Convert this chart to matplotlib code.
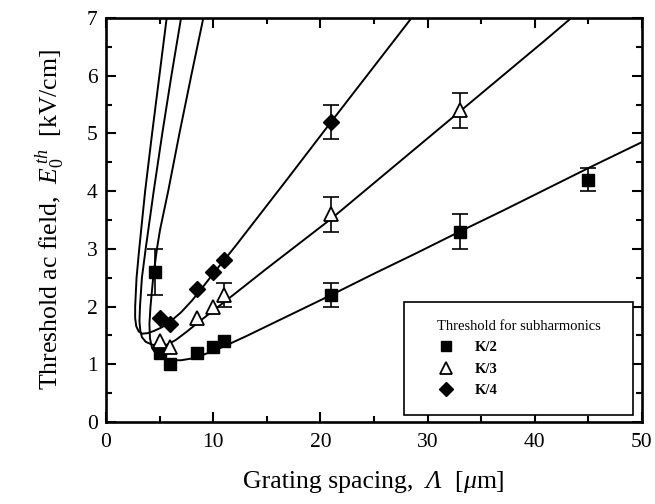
import matplotlib
matplotlib.use("Agg")
import matplotlib.pyplot as plt
from matplotlib.ticker import MultipleLocator
from matplotlib.offsetbox import TextArea, HPacker, AnchoredOffsetbox

# ---- data ----
k2_x = [4.6, 5, 6, 8.5, 10, 11, 21, 33, 45]
k2_y = [2.6, 1.2, 1.0, 1.2, 1.3, 1.4, 2.2, 3.3, 4.2]
k2_err = [0.4, 0, 0, 0, 0, 0, 0.2, 0.3, 0.2]

k3_x = [5, 6, 8.5, 10, 11, 21, 33]
k3_y = [1.4, 1.3, 1.8, 2.0, 2.2, 3.6, 5.4]
k3_err = [0, 0, 0, 0, 0.2, 0.3, 0.3]

k4_x = [5, 6, 8.5, 10, 11, 21]
k4_y = [1.8, 1.7, 2.3, 2.6, 2.8, 5.2]
k4_err = [0, 0, 0, 0, 0, 0.3]

# theoretical curves
c2_x = [9.08, 7.95, 6.85, 5.8, 5.04, 4.75, 4.4, 4.15, 4.05, 4.1, 4.3, 4.7, 5.3, 6.0, 7.0,
        8.0, 9.0, 10.0, 11.0, 13.0, 15.0, 18.0, 21.0, 25.0, 29.0, 33.0, 37.0, 41.0, 45.0, 50.0]
c2_y = [7.0, 6.0, 5.0, 4.0, 3.33, 3.0, 2.5, 2.0, 1.7, 1.45, 1.28, 1.17, 1.1, 1.07, 1.07,
        1.1, 1.16, 1.23, 1.31, 1.48, 1.66, 1.93, 2.2, 2.57, 2.93, 3.3, 3.66, 4.03, 4.4, 4.85]

c3_x = [7.0, 6.1, 5.25, 4.45, 3.7, 3.35, 3.17, 3.12, 3.2, 3.35, 3.7, 4.3, 5.0, 5.7, 6.5,
        7.5, 8.5, 10.0, 12.0, 15.0, 18.0, 21.0, 25.0, 29.0, 33.0, 37.0, 41.0, 43.4]
c3_y = [7.0, 6.0, 5.0, 4.0, 3.0, 2.5, 2.0, 1.75, 1.58, 1.47, 1.39, 1.34, 1.32, 1.34, 1.42,
        1.56, 1.71, 1.93, 2.22, 2.66, 3.09, 3.52, 4.14, 4.76, 5.38, 6.0, 6.62, 7.0]

c4_x = [5.66, 4.98, 4.3, 3.65, 3.1, 2.85, 2.72, 2.72, 2.82, 3.05, 3.4, 3.9, 4.5, 5.2, 6.0,
        7.0, 8.0, 9.0, 10.0, 11.0, 12.0, 14.0, 17.0, 21.0, 24.0, 26.0, 28.5]
c4_y = [7.0, 6.0, 5.0, 4.0, 3.0, 2.5, 2.0, 1.8, 1.66, 1.57, 1.53, 1.54, 1.58, 1.64, 1.74,
        1.9, 2.1, 2.33, 2.57, 2.8, 3.03, 3.51, 4.23, 5.2, 5.92, 6.4, 7.0]

legend_title = "Threshold for subharmonics"
labels = ["K/2", "K/3", "K/4"]

# ---- style ----
plt.rcParams['font.family'] = ['Liberation Serif', 'DejaVu Serif']
plt.rcParams['mathtext.fontset'] = 'custom'
plt.rcParams['mathtext.rm'] = 'Liberation Serif'
plt.rcParams['mathtext.it'] = 'Liberation Serif:italic'

fig = plt.figure(figsize=(6.55, 5.04), dpi=100)
ax = fig.add_axes([106/655, 1-422/504, 536/655, 404/504])

for cx, cy in [(c2_x, c2_y), (c3_x, c3_y), (c4_x, c4_y)]:
    ax.plot(cx, cy, color='black', lw=1.4, zorder=2, clip_on=True)

def errs(xs, ys, es):
    xx = [x for x, e in zip(xs, es) if e > 0]
    yy = [y for y, e in zip(ys, es) if e > 0]
    ee = [e for e in es if e > 0]
    ax.errorbar(xx, yy, yerr=ee, fmt='none', ecolor='black', elinewidth=1.2,
                capsize=6, capthick=1.2, zorder=3)

errs(k2_x, k2_y, k2_err)
errs(k3_x, k3_y, k3_err)
errs(k4_x, k4_y, k4_err)

h2, = ax.plot(k2_x, k2_y, 's', color='black', ms=9, ls='none', zorder=4)
h3, = ax.plot(k3_x, k3_y, '^', mfc='white', mec='black', mew=1.3, ms=10.5, ls='none', zorder=4)
h4, = ax.plot(k4_x, k4_y, 'D', color='black', ms=8.5, ls='none', zorder=4)

ax.set_xlim(0, 50)
ax.set_ylim(0, 7)
ax.xaxis.set_major_locator(MultipleLocator(10))
ax.xaxis.set_minor_locator(MultipleLocator(5))
ax.yaxis.set_major_locator(MultipleLocator(1))
ax.yaxis.set_minor_locator(MultipleLocator(0.5))
ax.tick_params(which='both', direction='in', top=True, right=True, width=1.5,
               labelsize=15.5, pad=6)
ax.tick_params(axis='x', pad=8)
ax.tick_params(which='major', length=7)
ax.tick_params(which='minor', length=4)
for s in ax.spines.values():
    s.set_linewidth(1.9)

# x label built from pieces so that the Greek letters can be italic
fs = 18.5
parts = [("Grating spacing,  ", 'normal'), ("Λ", 'italic'), ("  [", 'normal'),
         ("μ", 'italic'), ("m]", 'normal')]
areas = [TextArea(t, textprops=dict(fontsize=fs, fontstyle=st, family='Liberation Serif'))
         for t, st in parts]
pack = HPacker(children=areas, align='baseline', pad=0, sep=0)
box = AnchoredOffsetbox(loc='upper center', child=pack, pad=0, borderpad=0, frameon=False,
                        bbox_to_anchor=(0.5, -0.122), bbox_transform=ax.transAxes)
ax.add_artist(box)

ax.set_ylabel(r"Threshold ac field,  $E_0^{\,th}$  [kV/cm]", fontsize=fs, labelpad=14)

leg = ax.legend([h2, h3, h4], labels, title=legend_title,
                loc='lower left', bbox_to_anchor=(0.556, 0.017, 0.427, 0.287),
                mode='expand', borderaxespad=0, frameon=True, fancybox=False,
                edgecolor='black', framealpha=1, prop={'weight': 'bold', 'size': 10.5},
                title_fontproperties={'size': 10.5}, borderpad=1.25, handlelength=3.2,
                handletextpad=0.4, labelspacing=0.55, markerscale=0.85)
leg.get_frame().set_linewidth(1.2)

fig.savefig("out.png", dpi=100)
